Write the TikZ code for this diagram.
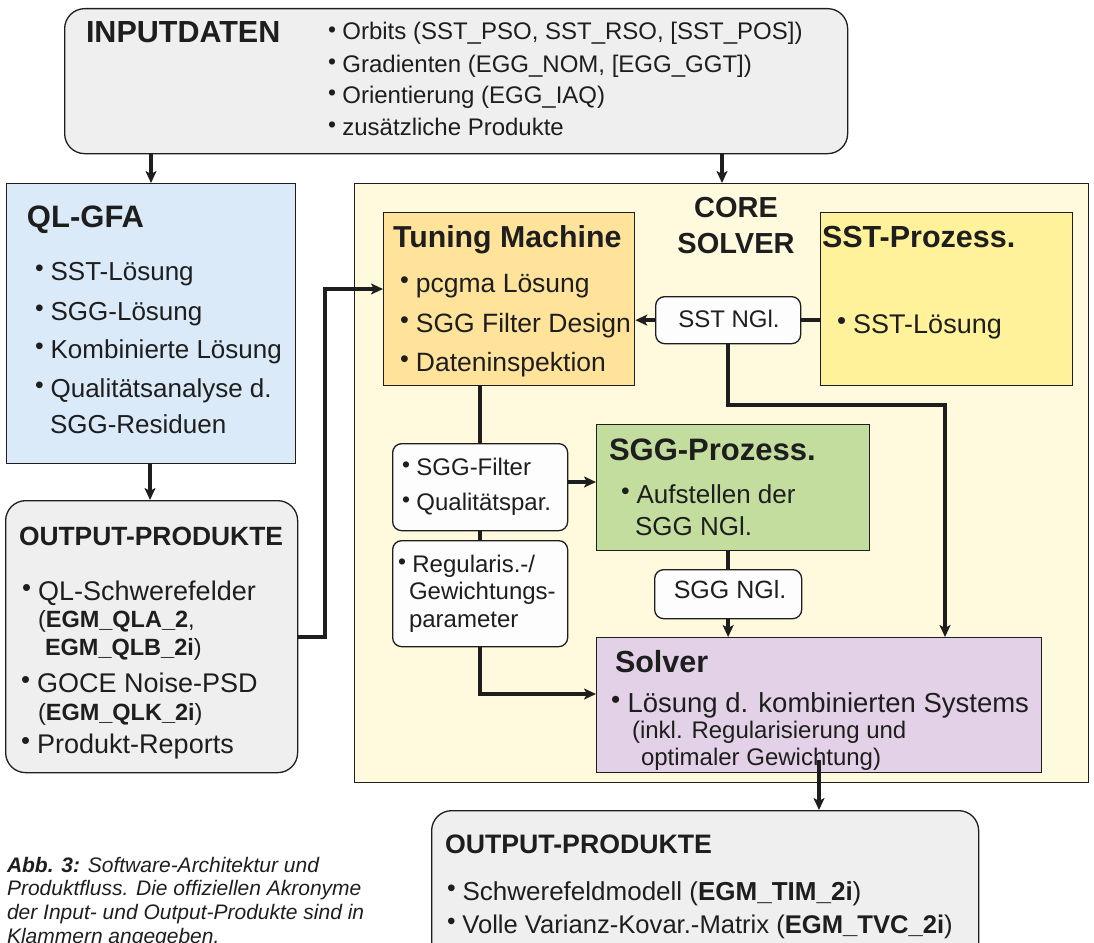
\documentclass[tikz,border=0pt]{standalone}
\usepackage{fontspec}
\setmainfont{Liberation Sans}
\usetikzlibrary{arrows.meta}
\definecolor{cinput}{HTML}{EFEFEF}
\definecolor{cql}{HTML}{DBEAF8}
\definecolor{ccore}{HTML}{FFF9DD}
\definecolor{ctune}{HTML}{FFE39B}
\definecolor{csst}{HTML}{FFF29A}
\definecolor{csgg}{HTML}{C3DD9F}
\definecolor{csolv}{HTML}{E3D2E7}
\definecolor{cwhite}{HTML}{FDFDFD}
\definecolor{cline}{HTML}{1E1E1E}
\newcommand\fs[1]{\fontsize{#1}{#1}\selectfont}
\newcommand\bul{\makebox[0.6em][l]{\raisebox{.12em}{\scalebox{.95}{•}}}}
\tikzset{
  box/.style={draw=cline, line width=1.3pt, inner sep=0pt, anchor=north west},
  rbox/.style={box, rounded corners=20pt},
  sbox/.style={box, rounded corners=9pt, fill=cwhite},
  con/.style={line width=3.5pt, cline},
  arr/.style={con, -{Stealth[length=12pt,width=11pt,inset=3pt]}},
  tx/.style={anchor=base west, inner sep=0pt, outer sep=0pt, text=cline},
  tb/.style={tx, font=\bfseries\fs{28}},
}
\begin{document}
\begin{tikzpicture}[x=1pt,y=-1pt]
\useasboundingbox (0,0) rectangle (1094,942);
\clip (0,0) rectangle (1094,942);
% boxes
\node[rbox, fill=cinput, minimum width=783, minimum height=145] (inp) at (64,8) {};
\node[box, fill=cql, minimum width=289, minimum height=280] (ql) at (6,183) {};
\node[rbox, fill=cinput, minimum width=292, minimum height=272] (outl) at (5,500) {};
\node[box, fill=ccore, minimum width=734, minimum height=599] (core) at (354,183) {};
\node[box, fill=ctune, minimum width=251, minimum height=173] (tune) at (383,212) {};
\node[box, fill=csst, minimum width=252, minimum height=173] (sst) at (820,212) {};
\node[sbox, minimum width=145, minimum height=47] (sstn) at (655,296) {};
\node[box, fill=csgg, minimum width=273, minimum height=126] (sgg) at (596,424) {};
\node[sbox, minimum width=147, minimum height=49] (sggn) at (654,569) {};
\node[sbox, minimum width=175, minimum height=87] (filt) at (392,443) {};
\node[sbox, minimum width=175, minimum height=106] (reg) at (392,540) {};
\node[box, fill=csolv, minimum width=445, minimum height=135] (solv) at (596,637) {};
\node[rbox, fill=cinput, minimum width=547, minimum height=160] (outb) at (431,810) {};
% texts: input
\node[tb, font=\bfseries\fs{30.5}] (tinp) at (86,43) {INPUTDATEN};
\node[tx, font=\fs{24}] (i1) at (328,40) {\bul Orbits (SST\_PSO, SST\_RSO, [SST\_POS])};
\node[tx, font=\fs{24}] (i2) at (328,72) {\bul Gradienten (EGG\_NOM, [EGG\_GGT])};
\node[tx, font=\fs{24}] (i3) at (328,103) {\bul Orientierung (EGG\_IAQ)};
\node[tx, font=\fs{24}] (i4) at (328,135) {\bul zusätzliche Produkte};
% QL-GFA
\node[tb, font=\bfseries\fs{31}] (tql) at (27,227) {QL-GFA};
\node[tx, font=\fs{26}] (q1) at (35,280) {\bul SST-Lösung};
\node[tx, font=\fs{26}] (q2) at (35,320) {\bul SGG-Lösung};
\node[tx, font=\fs{26}] (q3) at (35,358) {\bul Kombinierte Lösung};
\node[tx, font=\fs{26}] (q4) at (35,397) {\bul Qualitätsanalyse d.};
\node[tx, font=\fs{26}] (q5) at (50,433) {SGG-Residuen};
% left output
\node[tb, font=\bfseries\fs{26.4}] (tol) at (19,545) {OUTPUT-PRODUKTE};
\node[tx, font=\fs{27}] (o1) at (22,600) {\bul QL-Schwerefelder};
\node[tx, font=\fs{23.5}] (o2) at (38,627) {(\textbf{EGM\_QLA\_2},};
\node[tx, font=\fs{23.5}] (o3) at (45,655) {\textbf{EGM\_QLB\_2i})};
\node[tx, font=\fs{27}] (o4) at (21,692) {\bul GOCE Noise-PSD};
\node[tx, font=\fs{23.5}] (o5) at (38,720) {(\textbf{EGM\_QLK\_2i})};
\node[tx, font=\fs{27}] (o6) at (21,753) {\bul Produkt-Reports};
% core
\node[anchor=base, inner sep=0pt, font=\bfseries\fs{29}, text=cline] (tcore) at (736,217) {CORE};
\node[anchor=base, inner sep=0pt, font=\bfseries\fs{29}, text=cline] (tcore2) at (736,253) {SOLVER};
% tuning
\node[tb, font=\bfseries\fs{30.3}] (ttune) at (393,247) {Tuning Machine};
\node[tx, font=\fs{26.5}] (u1) at (400,292) {\bul pcgma Lösung};
\node[tx, font=\fs{26.5}] (u2) at (400,332) {\bul SGG Filter Design};
\node[tx, font=\fs{26.5}] (u3) at (400,371) {\bul Dateninspektion};
% sst
\node[tb, font=\bfseries\fs{30.5}] (tsst) at (822,247) {SST-Prozess.};
\node[tx, font=\fs{27}] (s1) at (837,333) {\bul SST-Lösung};
\node[anchor=base, inner sep=0pt, font=\fs{24}, text=cline] (tsstn) at (729,327) {SST NGl.};
% filter
\node[tx, font=\fs{24}] (f1) at (402,475) {\bul SGG-Filter};
\node[tx, font=\fs{24}] (f2) at (402,510) {\bul Qualitätspar.};
\node[tx, font=\fs{24}] (r1) at (398,572) {\bul Regularis.-/};
\node[tx, font=\fs{24}] (r2) at (409,599) {Gewichtungs-};
\node[tx, font=\fs{24}] (r3) at (409,627) {parameter};
% sgg
\node[tb, font=\bfseries\fs{31}] (tsgg) at (609,460) {SGG-Prozess.};
\node[tx, font=\fs{26}] (g1) at (621,503) {\bul Aufstellen der};
\node[tx, font=\fs{26}] (g2) at (635,535) {SGG NGl.};
\node[anchor=base, inner sep=0pt, font=\fs{25}, text=cline] (tsggn) at (730,598) {SGG NGl.};
% solver
\node[tb, font=\bfseries\fs{30.5}] (tsolv) at (615,672) {Solver};
\node[tx, font=\fs{27.5}] (v1) at (611,712) {\bul Lösung d. kombinierten Systems};
\node[tx, font=\fs{24}] (v2) at (632,738) {(inkl. Regularisierung und};
\node[tx, font=\fs{24}] (v3) at (641,765) {optimaler Gewichtung)};
% bottom output
\node[tb, font=\bfseries\fs{26.7}] (tob) at (445,853) {OUTPUT-PRODUKTE};
\node[tx, font=\fs{26}] (b1) at (447,900) {\bul Schwerefeldmodell (\textbf{EGM\_TIM\_2i})};
\node[tx, font=\fs{25.6}] (b2) at (447,933) {\bul Volle Varianz-Kovar.-Matrix (\textbf{EGM\_TVC\_2i})};
% caption
\node[tx, font=\itshape\fs{21}] (c1) at (7,872) {\textbf{Abb. 3:} Software-Architektur und};
\node[tx, font=\itshape\fs{21}] (c2) at (7,895) {Produktfluss. Die offiziellen Akronyme};
\node[tx, font=\itshape\fs{21}] (c3) at (7,919) {der Input- und Output-Produkte sind in};
\node[tx, font=\itshape\fs{21}] (c4) at (7,943) {Klammern angegeben.};
% connectors
\draw[arr] (inp.south -| 151,0) -- (151,0 |- ql.north);
\draw[arr] (inp.south -| 722,0) -- (722,0 |- core.north);
\draw[arr] (ql.south -| 150,0) -- (150,0 |- outl.north);
\draw[arr] (outl.east |- 0,637) -- (325,637) -- (325,289) -- (tune.west |- 0,289);
\draw[con] (sst.west |- sstn.east) -- (sstn.east);
\draw[arr] (sstn.west) -- (tune.east |- sstn.west);
\draw[arr] (sstn.south) -- (sstn.south |- 0,405) -- (945,405) -- (945,0 |- solv.north);
\draw[con] (tune.south -| 480,0) -- (480,0 |- filt.north);
\draw[con] (filt.south -| 480,0) -- (480,0 |- reg.north);
\draw[arr] (filt.east |- 0,482) -- (sgg.west |- 0,482);
\draw[arr] (reg.south -| 480,0) -- (480,694) -- (solv.west |- 0,694);
\draw[con] (sgg.south -| sggn.north) -- (sggn.north);
\draw[arr] (sggn.south) -- (sggn.south |- solv.north);
\coordinate (sb) at (819,760);
\draw[arr] (sb) -- (sb |- outb.north);
\end{tikzpicture}
\end{document}
